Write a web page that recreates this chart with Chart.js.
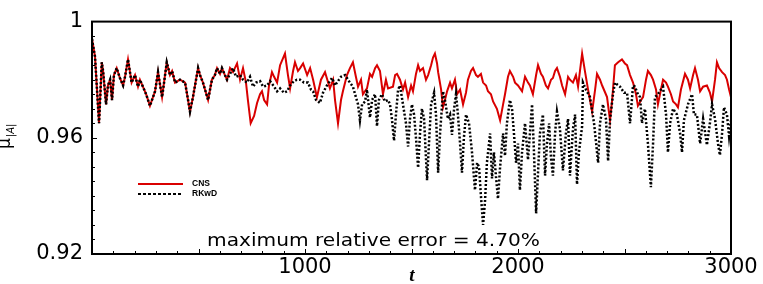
<!DOCTYPE html>
<html>
<head>
<meta charset="utf-8">
<script src="https://cdn.jsdelivr.net/npm/chart.js@4.4.0/dist/chart.umd.min.js"></script>
<style>
  html, body { margin: 0; padding: 0; background: #fff; }
  #wrap { width: 763px; height: 284px; }
</style>
</head>
<body>
<div id="wrap"><canvas id="muChart" width="763" height="284"></canvas></div>
<script>
// [t, mu]; both runs coincide up to t ~ 640
const sharedStart = [
    [0, 0.994], [14, 0.988], [33, 0.965], [46, 0.986], [52, 0.983], [66, 0.9715], [75, 0.978], [85, 0.980], [94, 0.973], [103, 0.9816],
    [116, 0.984], [131, 0.9806], [146, 0.978], [155, 0.981], [169, 0.987], [186, 0.979], [202, 0.9816], [216, 0.9776], [225, 0.980], [239, 0.9776],
    [254, 0.975], [272, 0.971], [296, 0.976], [310, 0.9826], [329, 0.974], [351, 0.986], [366, 0.9816], [376, 0.983], [390, 0.979], [413, 0.980],
    [437, 0.979], [451, 0.973], [460, 0.969], [474, 0.974], [498, 0.984], [507, 0.9816], [521, 0.979], [535, 0.9755], [545, 0.973], [563, 0.980],
    [577, 0.9816], [587, 0.984], [601, 0.982], [610, 0.984], [624, 0.9816], [634, 0.980]
];

const cnsRest = [
    [648, 0.984], [662, 0.9826], [681, 0.9856], [695, 0.980], [709, 0.984], [723, 0.979], [732, 0.973], [745, 0.965], [761, 0.9675], [775, 0.972],
    [789, 0.975], [798, 0.976], [808, 0.973], [822, 0.9715], [831, 0.978], [845, 0.9826], [855, 0.981], [869, 0.979], [883, 0.985], [906, 0.989],
    [920, 0.9816], [930, 0.977], [944, 0.983], [953, 0.986], [967, 0.983], [977, 0.984], [991, 0.9856], [1010, 0.9816], [1024, 0.984], [1038, 0.980],
    [1056, 0.974], [1075, 0.980], [1094, 0.9826], [1117, 0.977], [1132, 0.980], [1141, 0.973], [1155, 0.965], [1169, 0.973], [1178, 0.976], [1197, 0.9816],
    [1211, 0.984], [1225, 0.986], [1239, 0.981], [1249, 0.9776], [1263, 0.980], [1272, 0.975], [1291, 0.977], [1305, 0.982], [1315, 0.981], [1329, 0.984],
    [1338, 0.985], [1352, 0.983], [1366, 0.975], [1380, 0.980], [1390, 0.977], [1413, 0.9776], [1423, 0.9816], [1432, 0.982], [1446, 0.980], [1460, 0.9766],
    [1470, 0.979], [1484, 0.974], [1498, 0.978], [1507, 0.976], [1521, 0.982], [1531, 0.985], [1540, 0.983], [1554, 0.984], [1568, 0.980], [1578, 0.9816],
    [1592, 0.985], [1601, 0.9876], [1610, 0.989], [1620, 0.9856], [1625, 0.9826], [1639, 0.9766], [1648, 0.9705], [1657, 0.973], [1667, 0.976], [1681, 0.979],
    [1690, 0.977], [1704, 0.980], [1714, 0.975], [1728, 0.9766], [1742, 0.9715], [1756, 0.9756], [1765, 0.980], [1779, 0.983], [1789, 0.984], [1803, 0.9816],
    [1812, 0.981], [1826, 0.982], [1836, 0.979], [1850, 0.978], [1859, 0.976], [1873, 0.975], [1883, 0.9725], [1901, 0.970], [1916, 0.966], [1930, 0.9715],
    [1939, 0.975], [1953, 0.981], [1962, 0.983], [1977, 0.981], [1986, 0.979], [2000, 0.978], [2019, 0.976], [2033, 0.981], [2047, 0.979], [2056, 0.978],
    [2070, 0.975], [2085, 0.9816], [2094, 0.985], [2108, 0.982], [2117, 0.981], [2131, 0.978], [2141, 0.977], [2155, 0.980], [2164, 0.9806], [2174, 0.983],
    [2183, 0.984], [2197, 0.981], [2207, 0.978], [2221, 0.975], [2235, 0.981], [2244, 0.980], [2258, 0.979], [2272, 0.9816], [2282, 0.9776], [2291, 0.983],
    [2301, 0.989], [2315, 0.9826], [2329, 0.9766], [2338, 0.973], [2348, 0.969], [2362, 0.9766], [2371, 0.982], [2385, 0.980], [2395, 0.978], [2409, 0.9756],
    [2418, 0.974], [2432, 0.966], [2442, 0.973], [2455, 0.985], [2470, 0.986], [2488, 0.987], [2502, 0.9856], [2512, 0.985], [2526, 0.9816], [2540, 0.979],
    [2554, 0.975], [2563, 0.971], [2578, 0.973], [2587, 0.974], [2601, 0.980], [2610, 0.983], [2624, 0.9816], [2634, 0.980], [2648, 0.9766], [2657, 0.9715],
    [2671, 0.9766], [2681, 0.980], [2695, 0.979], [2704, 0.9776], [2718, 0.975], [2728, 0.9725], [2742, 0.9715], [2751, 0.9705], [2765, 0.9766], [2784, 0.982],
    [2798, 0.980], [2808, 0.977], [2822, 0.9816], [2831, 0.984], [2845, 0.980], [2855, 0.976], [2869, 0.9776], [2887, 0.978], [2901, 0.9756], [2911, 0.9725],
    [2925, 0.980], [2934, 0.986], [2944, 0.984], [2958, 0.9826], [2972, 0.9816], [2981, 0.980], [2991, 0.9766], [3000, 0.974]
];

const rkwdRest = [
    [648, 0.982], [662, 0.984], [676, 0.981], [695, 0.9816], [709, 0.980], [728, 0.979], [742, 0.981], [756, 0.9776], [770, 0.979], [789, 0.9795],
    [803, 0.9776], [822, 0.978], [836, 0.9795], [855, 0.9776], [869, 0.976], [883, 0.977], [901, 0.9755], [916, 0.976], [930, 0.978], [948, 0.9795],
    [962, 0.980], [977, 0.980], [995, 0.979], [1014, 0.979], [1028, 0.9766], [1038, 0.976], [1052, 0.973], [1070, 0.972], [1085, 0.9756], [1103, 0.978],
    [1127, 0.9806], [1141, 0.978], [1150, 0.979], [1169, 0.981], [1188, 0.9816], [1202, 0.980], [1211, 0.979], [1225, 0.9776], [1235, 0.975], [1249, 0.9715],
    [1258, 0.966], [1268, 0.9715], [1282, 0.9725], [1291, 0.9766], [1305, 0.967], [1315, 0.973], [1329, 0.975], [1338, 0.964], [1347, 0.973], [1361, 0.975],
    [1376, 0.9725], [1390, 0.973], [1399, 0.9715], [1408, 0.9665], [1418, 0.959], [1427, 0.968], [1437, 0.9766], [1446, 0.978], [1460, 0.9715], [1474, 0.965],
    [1484, 0.957], [1493, 0.9665], [1502, 0.9715], [1512, 0.968], [1521, 0.960], [1531, 0.9497], [1540, 0.9615], [1549, 0.970], [1559, 0.9665], [1573, 0.9454],
    [1582, 0.958], [1592, 0.9715], [1606, 0.9755], [1615, 0.968], [1625, 0.948], [1634, 0.9615], [1648, 0.976], [1657, 0.973], [1671, 0.9665], [1681, 0.968],
    [1690, 0.961], [1700, 0.970], [1709, 0.975], [1718, 0.968], [1728, 0.958], [1737, 0.948], [1746, 0.960], [1756, 0.968], [1770, 0.965], [1784, 0.955],
    [1798, 0.942], [1808, 0.9514], [1817, 0.950], [1826, 0.940], [1836, 0.930], [1845, 0.938], [1854, 0.9514], [1869, 0.9615], [1878, 0.946], [1887, 0.955],
    [1897, 0.9464], [1906, 0.939], [1916, 0.950], [1930, 0.9615], [1939, 0.9538], [1948, 0.965], [1962, 0.973], [1972, 0.970], [1981, 0.9615], [1991, 0.9514],
    [2000, 0.958], [2009, 0.942], [2019, 0.955], [2033, 0.965], [2047, 0.9524], [2056, 0.9615], [2066, 0.9715], [2075, 0.955], [2085, 0.934], [2094, 0.948],
    [2103, 0.9615], [2117, 0.968], [2127, 0.947], [2136, 0.958], [2146, 0.965], [2155, 0.953], [2164, 0.947], [2174, 0.9615], [2183, 0.969], [2197, 0.963],
    [2211, 0.9488], [2225, 0.9615], [2235, 0.9665], [2244, 0.947], [2258, 0.963], [2268, 0.968], [2277, 0.944], [2286, 0.955], [2301, 0.964], [2305, 0.979],
    [2319, 0.9766], [2338, 0.974], [2357, 0.965], [2367, 0.958], [2376, 0.9514], [2385, 0.965], [2399, 0.9715], [2413, 0.9665], [2423, 0.952], [2432, 0.966],
    [2446, 0.975], [2455, 0.979], [2479, 0.9776], [2498, 0.9755], [2512, 0.9755], [2526, 0.965], [2540, 0.978], [2549, 0.9776], [2563, 0.975], [2573, 0.974],
    [2582, 0.965], [2596, 0.970], [2610, 0.958], [2624, 0.943], [2634, 0.958], [2643, 0.974], [2657, 0.975], [2671, 0.9766], [2681, 0.9776], [2695, 0.968],
    [2704, 0.955], [2714, 0.965], [2728, 0.970], [2746, 0.968], [2761, 0.9615], [2770, 0.955], [2779, 0.966], [2798, 0.9715], [2817, 0.975], [2826, 0.968],
    [2840, 0.968], [2855, 0.958], [2869, 0.9665], [2887, 0.9575], [2901, 0.965], [2911, 0.9715], [2925, 0.9665], [2939, 0.958], [2948, 0.954], [2958, 0.9615],
    [2967, 0.9705], [2981, 0.968], [2991, 0.9605], [3000, 0.966]
];

const seriesNames = ['CNS', 'RKwD'];
const xTickValues = [1000, 2000, 3000];
const yTickValues = [0.92, 0.96, 1];
const noteText = 'maximum relative error = 4.70%';

const RED = '#d90000';

function toPoints(list) {
    return list.map(p => ({ x: p[0], y: p[1] }));
}

// frame, inward ticks, legend, note and the y title
const decorPlugin = {
    id: 'decor',
    afterDatasetsDraw(chart) {
        const { ctx, chartArea: a, scales } = chart;
        const xs = scales.x, ys = scales.y;
        ctx.save();

        ctx.strokeStyle = '#000';
        ctx.lineWidth = 1;
        ctx.beginPath();
        for (let t = 100; t < 3000; t += 100) {
            const px = Math.round(xs.getPixelForValue(t)) + 0.5;
            const len = t % 500 === 0 ? 5 : 3;
            ctx.moveTo(px, a.bottom);
            ctx.lineTo(px, a.bottom - len);
        }
        for (let k = 1; k < 16; k++) {
            const py = Math.round(ys.getPixelForValue(0.92 + k * 0.005)) + 0.5;
            const len = k % 8 === 0 ? 5 : 3;
            ctx.moveTo(a.left, py);
            ctx.lineTo(a.left + len, py);
        }
        ctx.stroke();

        ctx.lineWidth = 2;
        ctx.strokeRect(a.left, a.top, a.right - a.left, a.bottom - a.top);

        // legend
        ctx.lineWidth = 2;
        ctx.strokeStyle = RED;
        ctx.beginPath();
        ctx.moveTo(138, 184);
        ctx.lineTo(183, 184);
        ctx.stroke();
        ctx.strokeStyle = '#000';
        ctx.setLineDash([3, 2]);
        ctx.beginPath();
        ctx.moveTo(138, 194);
        ctx.lineTo(183, 194);
        ctx.stroke();
        ctx.setLineDash([]);
        ctx.fillStyle = '#000';
        ctx.font = 'bold 8.5px "Liberation Sans"';
        ctx.textBaseline = 'middle';
        ctx.textAlign = 'left';
        ctx.fillText(seriesNames[0], 192, 184);
        ctx.fillText(seriesNames[1], 192, 194);

        // note
        ctx.save();
        ctx.translate(207, 246);
        ctx.scale(1.12, 1);
        ctx.font = '18px "DejaVu Sans"';
        ctx.textBaseline = 'alphabetic';
        ctx.fillText(noteText, 0, 0);
        ctx.restore();

        // x title
        ctx.font = 'bold italic 19px "Liberation Serif"';
        ctx.textAlign = 'center';
        ctx.textBaseline = 'alphabetic';
        ctx.fillText('t', 412, 281);

        // y title: mu with |A| subscript
        ctx.save();
        ctx.translate(10, 149);
        ctx.rotate(-Math.PI / 2);
        ctx.textAlign = 'left';
        ctx.font = '17px "DejaVu Sans"';
        ctx.fillText('\u03bc', 0, 0);
        let w = ctx.measureText('\u03bc').width + 1;
        ctx.font = '10px "DejaVu Sans"';
        ctx.fillText('|', w, 4);
        w += ctx.measureText('|').width;
        ctx.font = 'italic 10px "DejaVu Sans"';
        ctx.fillText('A', w, 4);
        w += ctx.measureText('A').width;
        ctx.font = '10px "DejaVu Sans"';
        ctx.fillText('|', w, 4);
        ctx.restore();

        ctx.restore();
    }
};

Chart.defaults.font.family = '"DejaVu Sans"';
Chart.defaults.color = '#000';

new Chart(document.getElementById('muChart').getContext('2d'), {
    type: 'line',
    data: {
        datasets: [
            {
                label: seriesNames[0],
                data: toPoints(sharedStart.concat(cnsRest)),
                borderColor: RED,
                borderWidth: 2,
                pointRadius: 0,
                tension: 0,
                order: 2,
            },
            {
                label: seriesNames[1],
                data: toPoints(sharedStart.concat(rkwdRest)),
                borderColor: '#000',
                borderWidth: 2.5,
                borderDash: [2, 2],
                pointRadius: 0,
                tension: 0,
                order: 1,
            },
        ],
    },
    options: {
        responsive: false,
        animation: false,
        devicePixelRatio: 1,
        layout: { padding: { top: 15, right: 32, left: 0, bottom: 0 } },
        plugins: {
            legend: { display: false },
            tooltip: { enabled: false },
        },
        scales: {
            x: {
                type: 'linear',
                min: 0,
                max: 3000,
                grid: { display: false, drawTicks: false },
                border: { display: false },
                afterBuildTicks: axis => { axis.ticks = xTickValues.map(v => ({ value: v })); },
                afterFit: axis => { axis.height = 30; },
                ticks: {
                    autoSkip: false,
                    maxRotation: 0,
                    padding: 1,
                    font: { size: 21 },
                    callback: v => String(v),
                },
            },
            y: {
                min: 0.92,
                max: 1,
                grid: { display: false, drawTicks: false },
                border: { display: false },
                afterBuildTicks: axis => { axis.ticks = yTickValues.map(v => ({ value: v })); },
                afterFit: axis => { axis.width = 92; },
                ticks: {
                    padding: 9,
                    font: { size: 21 },
                    callback: v => String(+v.toFixed(2)),
                },
            },
        },
    },
    plugins: [decorPlugin],
});
</script>
</body>
</html>
